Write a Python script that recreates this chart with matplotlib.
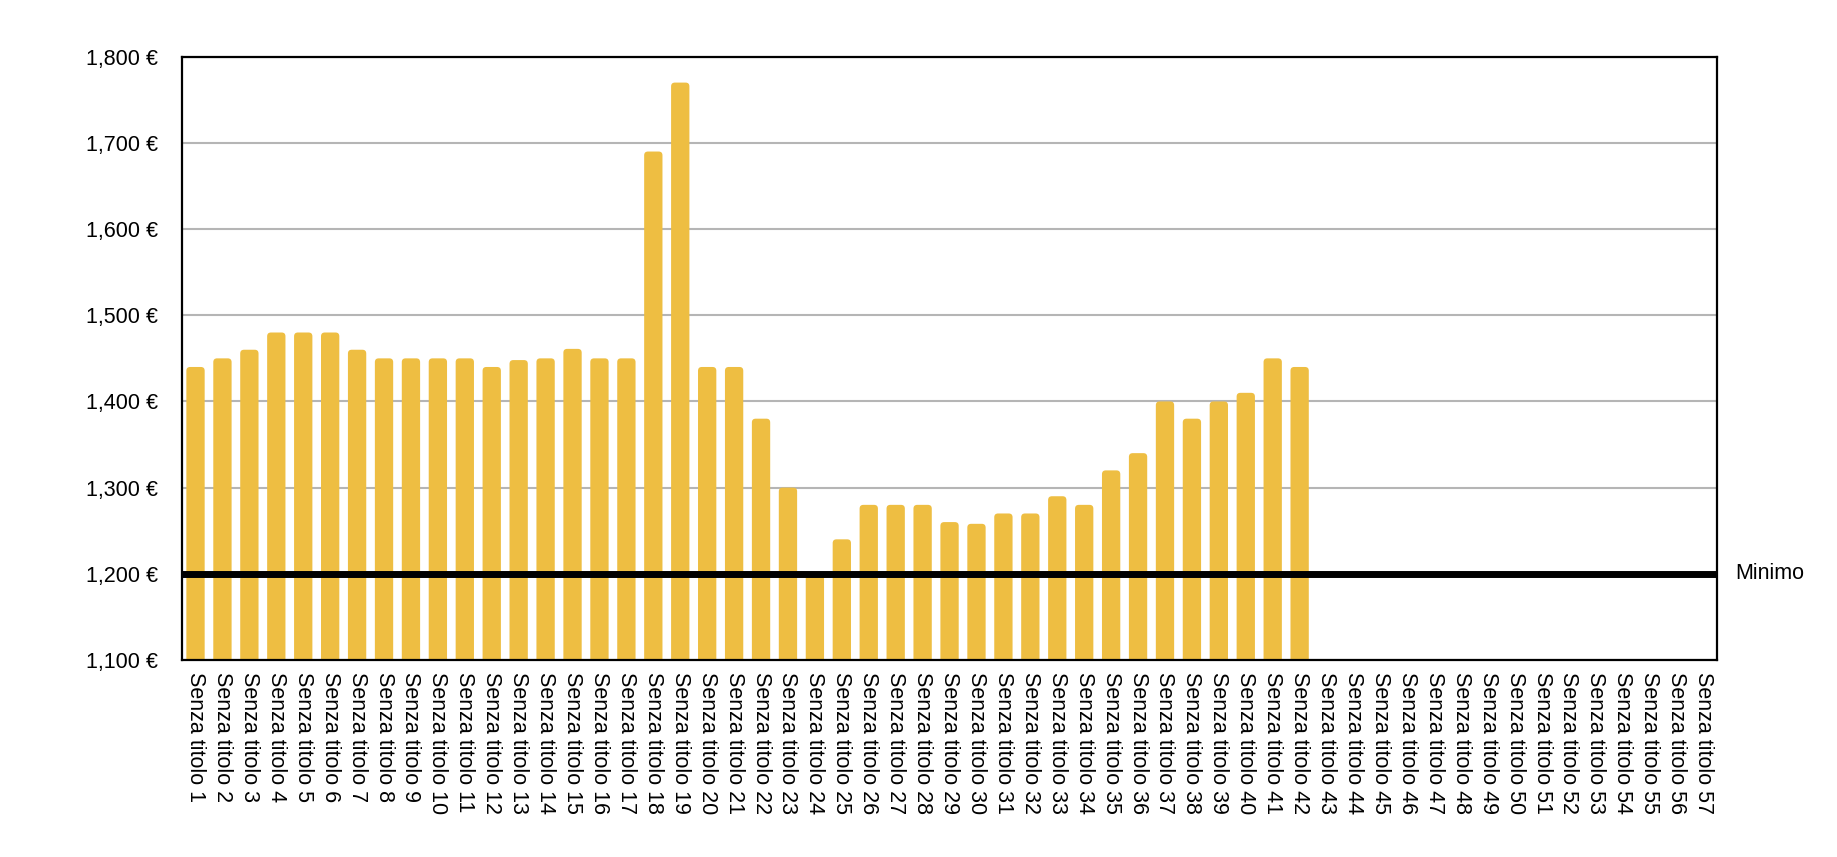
import matplotlib
matplotlib.use("Agg")
import matplotlib.pyplot as plt
from matplotlib.patches import FancyBboxPatch
from matplotlib.ticker import FuncFormatter

plt.rcParams['font.family'] = ['Liberation Sans', 'DejaVu Sans']

categories = [f"Senza titolo {i}" for i in range(1, 58)]
values = [1440, 1450, 1460, 1480, 1480, 1480, 1460, 1450, 1450, 1450,
          1450, 1440, 1448, 1450, 1461, 1450, 1450, 1690, 1770, 1440,
          1440, 1380, 1300, 1200, 1240, 1280, 1280, 1280, 1260, 1258,
          1270, 1270, 1290, 1280, 1320, 1340, 1400, 1380, 1400, 1410,
          1450, 1440]
minimum = 1200
y_ticks = [1100, 1200, 1300, 1400, 1500, 1600, 1700, 1800]

bar_color = '#EEBE42'

fig = plt.figure(figsize=(18.37, 8.57), dpi=100)
ax = fig.add_axes([0.0991, 0.2299, 0.8356, 0.7039])

x = list(range(len(categories)))
ax.set_xlim(-0.5, len(categories) - 0.5)
ax.set_ylim(1100, 1800)

bars = ax.bar(x[:len(values)], values, width=0.68, color=bar_color, zorder=2)

# rounded tops
fig.canvas.draw()
bbox = ax.get_window_extent()
px_per_x = bbox.width / (len(categories))
px_per_y = bbox.height / 700.0
aspect = px_per_x / px_per_y
for b in bars:
    bx, by = b.get_x(), b.get_y()
    bw, bh = b.get_width(), b.get_height()
    b.set_visible(False)
    p = FancyBboxPatch((bx, by), bw, bh,
                       boxstyle="round,pad=0,rounding_size=0.14",
                       mutation_aspect=aspect,
                       facecolor=bar_color, edgecolor='none', zorder=2)
    ax.add_patch(p)

ax.set_yticks(y_ticks)
ax.yaxis.set_major_formatter(FuncFormatter(lambda v, p: f"{int(v):,} €"))
ax.grid(axis='y', color='#B5B5B5', linewidth=1.5, zorder=0)
ax.set_axisbelow(True)

ax.set_xticks(x)
ax.set_xticklabels(categories, rotation=-90, ha='center', va='top')
ax.tick_params(axis='x', length=0, pad=9, labelsize=15.5)
ax.tick_params(axis='y', length=0, pad=17, labelsize=15.5)

ax.axhline(minimum, color='black', linewidth=5, zorder=3)
ax.text(1.012, minimum, "Minimo", transform=ax.get_yaxis_transform(),
        va='center', ha='left', fontsize=15.5)

for s in ax.spines.values():
    s.set_color('black')
    s.set_linewidth(1.6)
    s.set_zorder(4)

fig.savefig("out.png", dpi=100, facecolor='white')
